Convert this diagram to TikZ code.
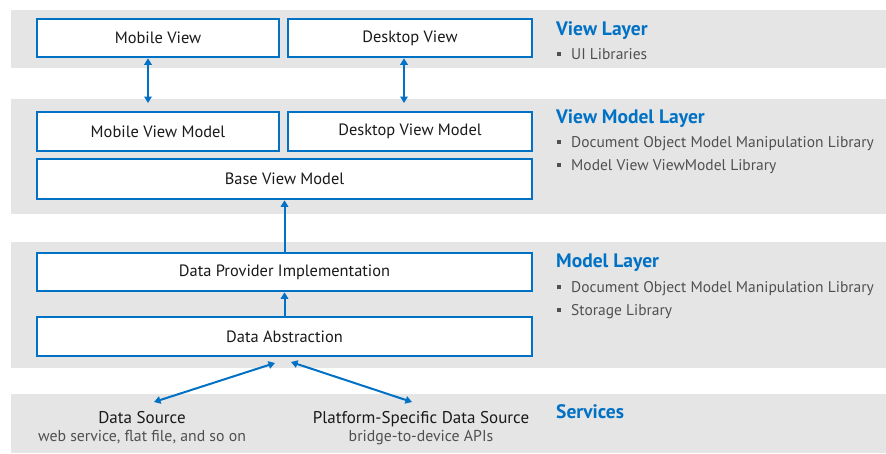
\documentclass[tikz,border=0pt]{standalone}
\usepackage{fontspec}
\setmainfont{PT Sans}
\usetikzlibrary{arrows.meta}
\definecolor{iblue}{HTML}{0071C5}
\definecolor{bandc}{HTML}{E5E5E5}
\definecolor{txt}{HTML}{1A1A1A}
\definecolor{gtxt}{HTML}{505050}
\newcommand{\bsq}{\textcolor{gtxt}{\rule[3.5pt]{4pt}{4pt}}\hspace{10pt}}
\begin{document}
\begin{tikzpicture}[x=1pt,y=-1pt,
  bandbg/.style={fill=bandc, draw=none},
  box/.style={draw=iblue, line width=2.6pt, fill=white, inner sep=0pt,
    font=\fontsize{16.4}{19}\selectfont, text=txt},
  hdr/.style={anchor=base west, inner sep=0pt, text=iblue,
    font=\fontsize{19.5}{22}\selectfont\bfseries},
  itm/.style={anchor=base west, inner sep=0pt, text=gtxt,
    font=\fontsize{15.5}{18}\selectfont},
  srcT/.style={anchor=base, inner sep=0pt, text=txt,
    font=\fontsize{17}{20}\selectfont},
  srcS/.style={anchor=base, inner sep=0pt, text=gtxt,
    font=\fontsize{15.8}{18}\selectfont},
  arr/.style={draw=iblue, line width=2pt,
    arrows={-{Triangle[length=6.5pt,width=7.5pt]}}},
  darr/.style={draw=iblue, line width=2pt,
    arrows={{Triangle[length=6.5pt,width=7.5pt]}-{Triangle[length=6.5pt,width=7.5pt]}}}
]
\useasboundingbox (0,0) rectangle (886,453);
% bands
\fill[bandbg] (11,10) rectangle (886,68);
\fill[bandbg] (11,99) rectangle (886,214);
\fill[bandbg] (11,242) rectangle (886,368);
\fill[bandbg] (11,394) rectangle (886,453);
% boxes
\node[box, minimum width=242pt, minimum height=38pt] (mv) at (158,38) {Mobile View};
\node[box, minimum width=244pt, minimum height=38pt] (dv) at (410,38) {Desktop View};
\node[box, minimum width=242pt, minimum height=39pt] (mvm) at (158,131.5) {Mobile View Model};
\node[box, minimum width=244pt, minimum height=39pt] (dvm) at (410,131.5) {Desktop View Model};
\node[box, minimum width=495pt, minimum height=40pt] (bvm) at (284.5,179) {Base View Model};
\node[box, minimum width=495pt, minimum height=38pt] (dpi) at (284.5,272) {Data Provider Implementation};
\node[box, minimum width=495pt, minimum height=39pt] (da) at (284.5,336.5) {Data Abstraction};
% sources
\node[srcT] (ds) at (142,423) {Data Source};
\node[srcS] (dss) at (142,441) {web service, flat file, and so on};
\node[srcT] (ps) at (421,423) {Platform-Specific Data Source};
\node[srcS] (pss) at (421,441) {bridge-to-device APIs};
% right texts
\node[hdr] (vl) at (556,35) {View Layer};
\node[itm] (vl1) at (557,59) {\bsq UI Libraries};
\node[hdr] (vml) at (556,123) {View Model Layer};
\node[itm] (vml1) at (557,147) {\bsq Document Object Model Manipulation Library};
\node[itm] (vml2) at (557,170) {\bsq Model View ViewModel Library};
\node[hdr] (ml) at (556,267) {Model Layer};
\node[itm] (ml1) at (557,292) {\bsq Document Object Model Manipulation Library};
\node[itm] (ml2) at (557,315) {\bsq Storage Library};
\node[hdr] (sv) at (556,418) {Services};
% arrow end coordinates
\coordinate (mvEnd) at (148,103);
\coordinate (dvEnd) at (404,103);
\coordinate (daL) at (275,363);
\coordinate (daR) at (291,362);
\coordinate (dsTip) at (154,402);
\coordinate (psTip) at (412,402);
% connectors
\draw[darr] (mvEnd |- mv.south) -- (mvEnd);
\draw[darr] (dvEnd |- dv.south) -- (dvEnd);
\draw[arr] (dpi.north) -- (bvm.south);
\draw[arr] (da.north) -- (dpi.south);
\draw[darr] (daL) -- (dsTip);
\draw[darr] (daR) -- (psTip);
\end{tikzpicture}
\end{document}
